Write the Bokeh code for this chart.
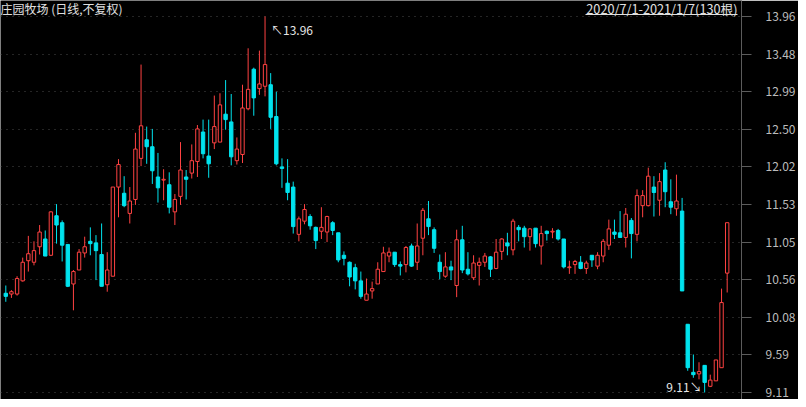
from bokeh.plotting import figure
from bokeh.models import ColumnDataSource, Range1d, FixedTicker, Label, Arrow
from bokeh.embed import file_html
from bokeh.resources import INLINE

# ---- data ----
opens = [10.39, 10.38, 10.38, 10.55, 10.81, 10.79, 10.99, 11.09, 10.88, 11.39,
         11.30, 11.02, 10.51, 10.69, 10.91, 11.06, 11.04, 10.89, 10.50, 10.61,
         11.76, 11.68, 11.42, 11.60, 12.13, 12.37, 12.28, 11.89, 11.85, 11.79,
         11.44, 11.64, 11.89, 11.94, 12.09, 12.47, 12.16, 12.33, 12.34, 12.70,
         12.60, 12.10, 12.18, 12.77, 13.28, 13.03, 13.06, 13.08, 12.67, 12.02,
         11.81, 11.76, 11.15, 11.32, 11.38, 11.24, 11.19, 11.18, 11.30, 11.17,
         10.88, 10.79, 10.72, 10.55, 10.30, 10.42, 10.51, 10.67, 10.87, 10.92,
         10.76, 10.76, 11.00, 10.79, 11.10, 11.35, 11.21, 10.79, 10.61, 10.73,
         10.49, 11.08, 10.70, 10.59, 10.75, 10.79, 10.86, 10.71, 10.93, 11.04,
         10.95, 11.24, 11.23, 11.12, 11.23, 11.00, 11.19, 11.18, 11.20, 11.09,
         10.72, 10.76, 10.79, 10.71, 10.88, 10.74, 10.87, 11.01, 11.18, 11.17,
         11.11, 11.33, 11.15, 11.52, 11.52, 11.76, 11.59, 11.98, 11.57, 11.48,
         11.45, 9.99, 9.37, 9.35, 9.46, 9.19, 9.26, 9.43, 10.65]
highs = [10.49, 10.43, 10.61, 10.85, 11.13, 11.06, 11.27, 11.20, 11.45, 11.54,
         11.33, 11.02, 10.69, 10.96, 11.12, 11.24, 11.14, 11.29, 10.92, 11.76,
         12.12, 11.90, 11.76, 12.46, 13.34, 12.54, 12.51, 12.20, 11.99, 11.95,
         11.67, 12.34, 11.98, 12.31, 12.56, 12.63, 12.63, 12.94, 12.97, 13.14,
         12.96, 12.40, 13.08, 13.55, 13.30, 13.52, 13.96, 13.23, 12.99, 12.13,
         12.12, 11.83, 11.38, 11.54, 11.41, 11.25, 11.50, 11.39, 11.32, 11.17,
         10.93, 10.80, 10.77, 10.67, 10.58, 10.54, 10.79, 10.99, 10.98, 10.92,
         10.80, 11.00, 11.03, 11.29, 11.49, 11.58, 11.24, 10.89, 10.92, 10.81,
         11.21, 11.26, 10.92, 10.88, 10.85, 10.91, 10.87, 11.09, 11.10, 11.17,
         11.35, 11.27, 11.26, 11.23, 11.23, 11.26, 11.20, 11.23, 11.22, 11.09,
         10.81, 10.82, 10.87, 10.81, 10.88, 10.92, 11.09, 11.34, 11.34, 11.45,
         11.49, 11.36, 11.73, 11.72, 12.01, 11.90, 11.94, 12.08, 11.86, 11.92,
         11.62, 9.99, 9.60, 9.50, 9.46, 9.34, 9.53, 10.45, 11.30]
lows = [10.28, 10.33, 10.36, 10.54, 10.67, 10.75, 10.89, 10.87, 10.87, 11.03,
        10.80, 10.47, 10.17, 10.69, 10.85, 10.88, 10.56, 10.48, 10.41, 10.61,
        11.37, 11.50, 11.29, 11.53, 12.03, 12.06, 11.80, 11.56, 11.59, 11.42,
        11.27, 11.53, 11.60, 11.87, 11.89, 12.13, 11.88, 12.25, 12.34, 12.50,
        12.04, 12.05, 12.07, 12.75, 12.68, 12.95, 12.93, 12.51, 12.04, 11.75,
        11.59, 11.16, 11.06, 11.28, 11.21, 10.96, 11.09, 11.05, 11.14, 10.79,
        10.75, 10.48, 10.44, 10.32, 10.30, 10.32, 10.51, 10.67, 10.79, 10.73,
        10.62, 10.66, 10.73, 10.69, 10.88, 11.14, 10.91, 10.57, 10.59, 10.56,
        10.34, 10.65, 10.62, 10.56, 10.49, 10.73, 10.60, 10.70, 10.82, 10.88,
        10.88, 11.06, 10.98, 10.94, 10.98, 10.76, 11.07, 11.10, 11.07, 10.71,
        10.64, 10.64, 10.70, 10.64, 10.73, 10.70, 10.79, 10.95, 11.09, 11.11,
        10.98, 10.84, 11.06, 11.37, 11.51, 11.38, 11.39, 11.50, 11.41, 11.39,
        10.42, 9.39, 9.30, 9.28, 9.11, 9.18, 9.26, 9.43, 10.40]
closes = [10.35, 10.41, 10.58, 10.79, 10.90, 10.94, 11.18, 10.87, 11.44, 11.27,
          11.01, 10.48, 10.67, 10.92, 10.99, 11.03, 10.94, 10.48, 10.69, 11.76,
          12.05, 11.52, 11.58, 12.25, 12.55, 12.28, 11.97, 11.75, 11.86, 11.50,
          11.60, 11.98, 11.86, 12.10, 12.51, 12.19, 12.06, 12.54, 12.82, 12.63,
          12.15, 12.25, 12.78, 13.02, 12.91, 13.09, 13.34, 12.66, 12.06, 12.00,
          11.69, 11.25, 11.35, 11.47, 11.26, 11.07, 11.24, 11.38, 11.20, 10.82,
          10.84, 10.60, 10.55, 10.35, 10.38, 10.45, 10.70, 10.91, 10.92, 10.76,
          10.74, 10.98, 10.74, 11.00, 11.46, 11.25, 10.97, 10.67, 10.73, 10.69,
          11.08, 10.69, 10.64, 10.78, 10.79, 10.87, 10.70, 10.92, 11.09, 11.00,
          11.32, 11.21, 11.12, 11.22, 11.03, 11.16, 11.16, 11.19, 11.09, 10.73,
          10.73, 10.80, 10.71, 10.78, 10.82, 10.88, 11.06, 11.22, 11.15, 11.11,
          11.41, 11.16, 11.65, 11.65, 11.90, 11.69, 11.83, 11.70, 11.50, 11.58,
          10.42, 9.43, 9.34, 9.38, 9.24, 9.27, 9.53, 10.27, 11.30]

tick_values = [9.11, 9.595, 10.08, 10.565, 11.05, 11.535, 12.02, 12.505, 12.99, 13.475, 13.96]
tick_labels = ["9.11", "9.59", "10.08", "10.56", "11.05", "11.53", "12.02", "12.50", "12.99", "13.48", "13.96"]

title_left = "庄园牧场 (日线,不复权)"
title_right = "2020/7/1-2021/1/7(130根)"

# ---- styling / layout ----
RED = "#ff4242"
CYAN = "#00e3ee"
FONT = "Noto Sans CJK SC"

W, H = 798, 399
RIGHT = 57
PAD_TOP_PX, PAD_BOTTOM_PX = 16, 7          # space above top tick / below bottom tick
lo, hi = tick_values[0], tick_values[-1]
ppu = (H - PAD_TOP_PX - PAD_BOTTOM_PX) / (hi - lo)
y_range = Range1d(lo - PAD_BOTTOM_PX / ppu, hi + PAD_TOP_PX / ppu)

n = len(opens)
xs = list(range(n))
up = [c >= o for o, c in zip(opens, closes)]
src = ColumnDataSource(dict(
    x=xs,
    high=highs,
    low=lows,
    top=[max(o, c) for o, c in zip(opens, closes)],
    bottom=[min(o, c) for o, c in zip(opens, closes)],
    color=[RED if u else CYAN for u in up],
    fill=["#000000" if u else CYAN for u in up],
))

p = figure(width=W, height=H, output_backend="svg", toolbar_location=None,
           x_range=Range1d(-0.94, 130.54), y_range=y_range,
           x_axis_location=None, y_axis_location="right",
           min_border_left=0, min_border_right=RIGHT,
           min_border_top=0, min_border_bottom=0,
           background_fill_color="#000000", border_fill_color="#000000",
           outline_line_color=None)

ax = p.yaxis[0]
ax.ticker = FixedTicker(ticks=tick_values)
ax.major_label_overrides = {v: t for v, t in zip(tick_values, tick_labels)}
ax.major_tick_out = 10
ax.major_tick_in = 0
ax.minor_tick_out = 0
ax.minor_tick_in = 0
ax.axis_line_color = "#5c5c5c"
ax.major_tick_line_color = "#5c5c5c"
ax.major_label_text_color = "#bcbcbc"
ax.major_label_text_font = FONT
ax.major_label_text_font_size = "12px"
ax.major_label_standoff = 14

p.ygrid.grid_line_color = "#4a4a4a"
p.ygrid.grid_line_dash = "1 5"
p.xgrid.visible = False

p.segment(x0="x", y0="high", x1="x", y1="low", line_color="color", line_width=1, source=src)
p.vbar(x="x", width=0.6, top="top", bottom="bottom", fill_color="fill",
       line_color="color", line_width=1, source=src)

# extreme markers
imax = max(range(n), key=lambda i: highs[i])
imin = min(range(n), key=lambda i: lows[i])
p.add_layout(Label(x=imax, y=highs[imax], text="\u2196" + f"{highs[imax]:.2f}",
                   x_offset=6, y_offset=-13, text_baseline="middle", text_align="left",
                   text_color="#e6e6e6", text_font=FONT, text_font_size="12px"))
p.add_layout(Label(x=imin, y=lows[imin], text=f"{lows[imin]:.2f}" + "\u2198",
                   x_offset=-3, y_offset=6, text_baseline="middle", text_align="right",
                   text_color="#e6e6e6", text_font=FONT, text_font_size="12px"))

# titles (inside the frame, at its top)
p.add_layout(Label(x=0, y=H - 8, x_units="screen", y_units="screen",
                   text=title_left, text_baseline="middle", text_align="left",
                   text_color="#e0e0e0", text_font=FONT, text_font_size="12px"))
p.add_layout(Label(x=737, y=H - 8, x_units="screen", y_units="screen",
                   text=title_right, text_baseline="middle", text_align="right",
                   text_color="#e0e0e0", text_font=FONT, text_font_size="12.7px"))
p.add_layout(Arrow(x_start=585, y_start=H - 14, x_end=737, y_end=H - 14,
                   start_units="screen", end_units="screen", start=None, end=None,
                   line_color="#e0e0e0", line_width=1))

open("out.html", "w").write(file_html(p, INLINE))
